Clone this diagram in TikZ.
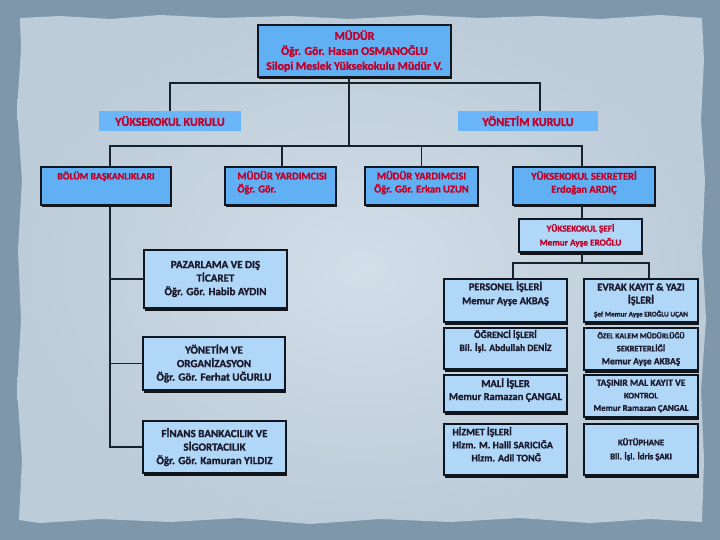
\documentclass[tikz,border=0pt]{standalone}
\usepackage{fontspec}
\setmainfont{Carlito}[BoldFeatures={FakeBold=1.2}]
\usetikzlibrary{shadows}
\definecolor{bgout}{HTML}{7E97AA}
\definecolor{paperin}{HTML}{D2DEE8}
\definecolor{paperout}{HTML}{BDCCD9}
\definecolor{midblue}{HTML}{62B0F4}
\definecolor{liteblue}{HTML}{B0D6F8}
\definecolor{flatblue}{HTML}{6AB6F8}
\definecolor{bordc}{HTML}{0E1622}
\definecolor{linec}{HTML}{17222F}
\definecolor{redc}{HTML}{C00028}
\definecolor{darkc}{HTML}{1A1A2C}
\tikzset{
  midbox/.style={draw=bordc, line width=1.5pt, fill=midblue, inner sep=0pt,
    drop shadow={shadow xshift=1pt, shadow yshift=-2.5pt, fill=black, opacity=0.9}},
  litebox/.style={midbox, fill=liteblue},
  flatbox/.style={fill=flatblue, inner sep=0pt},
  redtxt/.style={text=redc, align=center, inner sep=0pt},
  darktxt/.style={text=darkc, align=center, inner sep=0pt},
  conn/.style={draw=linec, line width=1.5pt},
}
\newcommand{\fs}[2]{\bfseries\fontsize{#1}{#2}\selectfont}
\begin{document}
\begin{tikzpicture}[x=1pt,y=-1pt]
\useasboundingbox (0,0) rectangle (720,540);
% background
\fill[bgout] (0,0) rectangle (720,540);
\shade[inner color=paperin, outer color=paperout]
 (20,18) -- (60,16) -- (110,19) -- (160,15) -- (220,18) -- (290,16) -- (350,19) -- (420,15) -- (480,18) -- (540,16) -- (600,19) -- (660,15) -- (702,18)
 -- (704,60) -- (701,120) -- (705,180) -- (702,250) -- (706,320) -- (701,390) -- (704,460) -- (702,522)
 -- (650,519) -- (590,523) -- (520,518) -- (450,522) -- (380,519) -- (310,524) -- (240,518) -- (170,522) -- (100,519) -- (40,523) -- (19,520)
 -- (22,460) -- (17,390) -- (21,320) -- (18,250) -- (22,180) -- (17,110) -- (21,50) -- cycle;

% top
\node[midbox, minimum width=193pt, minimum height=52pt, redtxt, font=\fs{11.8}{15}] (mudur) at (354.5,51)
  {MÜDÜR\\Öğr. Gör. Hasan OSMANOĞLU\\Silopi Meslek Yüksekokulu Müdür V.};
\node[flatbox, minimum width=142pt, minimum height=20pt, redtxt, font=\fs{12}{12}] (yk) at (170,121) {YÜKSEKOKUL KURULU};
\node[flatbox, minimum width=140pt, minimum height=20pt, redtxt, font=\fs{12}{12}] (yn) at (528,121) {YÖNETİM KURULU};

% level 2
\node[midbox, minimum width=130pt, minimum height=38pt] (bolum) at (106,186) {};
\node[redtxt, font=\fs{9.8}{13}, anchor=north] (tbolum) at ([yshift=-5pt]bolum.north) {BÖLÜM BAŞKANLIKLARI};
\node[midbox, minimum width=111pt, minimum height=38pt] (my1) at (280.5,186) {};
\node[redtxt, font=\fs{10.5}{13}, anchor=north west, align=left] (tmy1) at ([xshift=13pt,yshift=-4.5pt]my1.north west) {MÜDÜR YARDIMCISI\\Öğr. Gör.};
\node[midbox, minimum width=113pt, minimum height=38pt] (my2) at (421.5,186) {};
\node[redtxt, font=\fs{10.5}{13}, anchor=north] (tmy2) at ([yshift=-4.5pt]my2.north) {MÜDÜR YARDIMCISI\\Öğr. Gör. Erkan UZUN};
\node[midbox, minimum width=142pt, minimum height=38pt] (sek) at (584,186) {};
\node[redtxt, font=\fs{10.5}{13}, anchor=north] (tsek) at ([yshift=-4.5pt]sek.north) {YÜKSEKOKUL SEKRETERİ\\Erdoğan ARDIÇ};

\node[litebox, minimum width=123pt, minimum height=33pt, redtxt, font=\fs{9.2}{14}] (sef) at (580.5,235.5) {YÜKSEKOKUL ŞEFİ\\Memur Ayşe EROĞLU};

% right grid
\node[litebox, minimum width=123pt, minimum height=43pt] (g1l) at (505.5,300.5) {};
\node[darktxt, font=\fs{10.5}{14}, anchor=north] (t1l) at ([yshift=-3pt]g1l.north) {PERSONEL İŞLERİ\\Memur Ayşe AKBAŞ};
\node[litebox, minimum width=114pt, minimum height=43pt, darktxt, font=\fs{10.5}{13}] (g1r) at (641,300.5)
  {EVRAK KAYIT \& YAZI\\İŞLERİ\\{\fs{7.2}{10}Şef Memur Ayşe EROĞLU UÇAN}};
\node[litebox, minimum width=123pt, minimum height=41pt] (g2l) at (505.5,348.5) {};
\node[darktxt, font=\fs{9.6}{13}, anchor=north] (t2l) at ([yshift=-2.5pt]g2l.north) {ÖĞRENCİ İŞLERİ\\Bil. İşl. Abdullah DENİZ};
\node[litebox, minimum width=114pt, minimum height=42pt, darktxt, font=\fs{9.5}{13}] (g2r) at (641,349)
  {{\fs{7.8}{13}ÖZEL KALEM MÜDÜRLÜĞÜ}\\{\fs{8.5}{13}SEKRETERLİĞİ}\\Memur Ayşe AKBAŞ};
\node[litebox, minimum width=123pt, minimum height=37pt] (g3l) at (505.5,393.5) {};
\node[darktxt, font=\fs{10.5}{13}] (t3l) at ([yshift=3.5pt]g3l.center) {MALİ İŞLER\\Memur Ramazan ÇANGAL};
\node[litebox, minimum width=114pt, minimum height=42pt, darktxt, font=\fs{8.8}{12.5}] (g3r) at (641,396)
  {{\fs{9.6}{12.5}TAŞINIR MAL KAYIT VE}\\{\fs{8.5}{12.5}KONTROL}\\Memur Ramazan ÇANGAL};
\node[litebox, minimum width=123pt, minimum height=51pt] (g4l) at (505.5,449.5) {};
\node[darktxt, font=\fs{10}{13}, anchor=north west, align=left] (t4l) at ([xshift=9pt,yshift=-3.5pt]g4l.north west)
  {HİZMET İŞLERİ\\Hizm. M. Halil SARICIĞA\\\hspace*{19pt}Hizm. Adil TONĞ};
\node[litebox, minimum width=114pt, minimum height=51pt, darktxt, font=\fs{8.8}{14}] (g4r) at (641,449.5)
  {KÜTÜPHANE\\Bil. İşl. İdris ŞAKI};

% left column
\node[litebox, minimum width=143pt, minimum height=58pt, darktxt, font=\fs{11}{13.5}] (paz) at (215.5,279)
  {PAZARLAMA VE DIŞ\\TİCARET\\Öğr. Gör. Habib AYDIN};
\node[litebox, minimum width=142pt, minimum height=53pt, darktxt, font=\fs{11}{13.5}] (yon) at (214,363.5)
  {YÖNETİM VE\\ORGANİZASYON\\Öğr. Gör. Ferhat UĞURLU};
\node[litebox, minimum width=143pt, minimum height=52pt, darktxt, font=\fs{11}{13.5}] (fin) at (214.5,447)
  {FİNANS BANKACILIK VE\\SİGORTACILIK\\Öğr. Gör. Kamuran YILDIZ};

% connectors
\coordinate (j0) at (349,83);
\coordinate (j1) at (349,146);
\coordinate (j2) at (582,263);
\coordinate (sp) at (110,448);
\draw[conn] (mudur.south -| j0) -- (j1);
\draw[conn] (yk.north) |- (j0) -| ([xshift=12pt]yn.north);
\draw[conn] ([xshift=4pt]bolum.north) |- (j1) -| ([xshift=-2pt]sek.north);
\draw[conn] ([xshift=1.5pt]my1.north) -- ([xshift=1.5pt]my1.north |- j1);
\draw[conn] (my2.north) -- (my2.north |- j1);
\draw[conn] ([xshift=-2pt]sek.south) -- ([xshift=-2pt]sek.south |- sef.north);
\draw[conn] (sef.south -| j2) -- (j2);
\draw[conn] ([xshift=7.5pt]g1l.north) |- (j2) -| ([xshift=8pt]g1r.north);
\draw[conn] ([xshift=4pt]bolum.south) -- ([xshift=4pt]bolum.south |- fin.west) -- (fin.west);
\draw[conn] (paz.west) -- (paz.west -| sp);
\draw[conn] (yon.west) -- (yon.west -| sp);
\end{tikzpicture}
\end{document}
